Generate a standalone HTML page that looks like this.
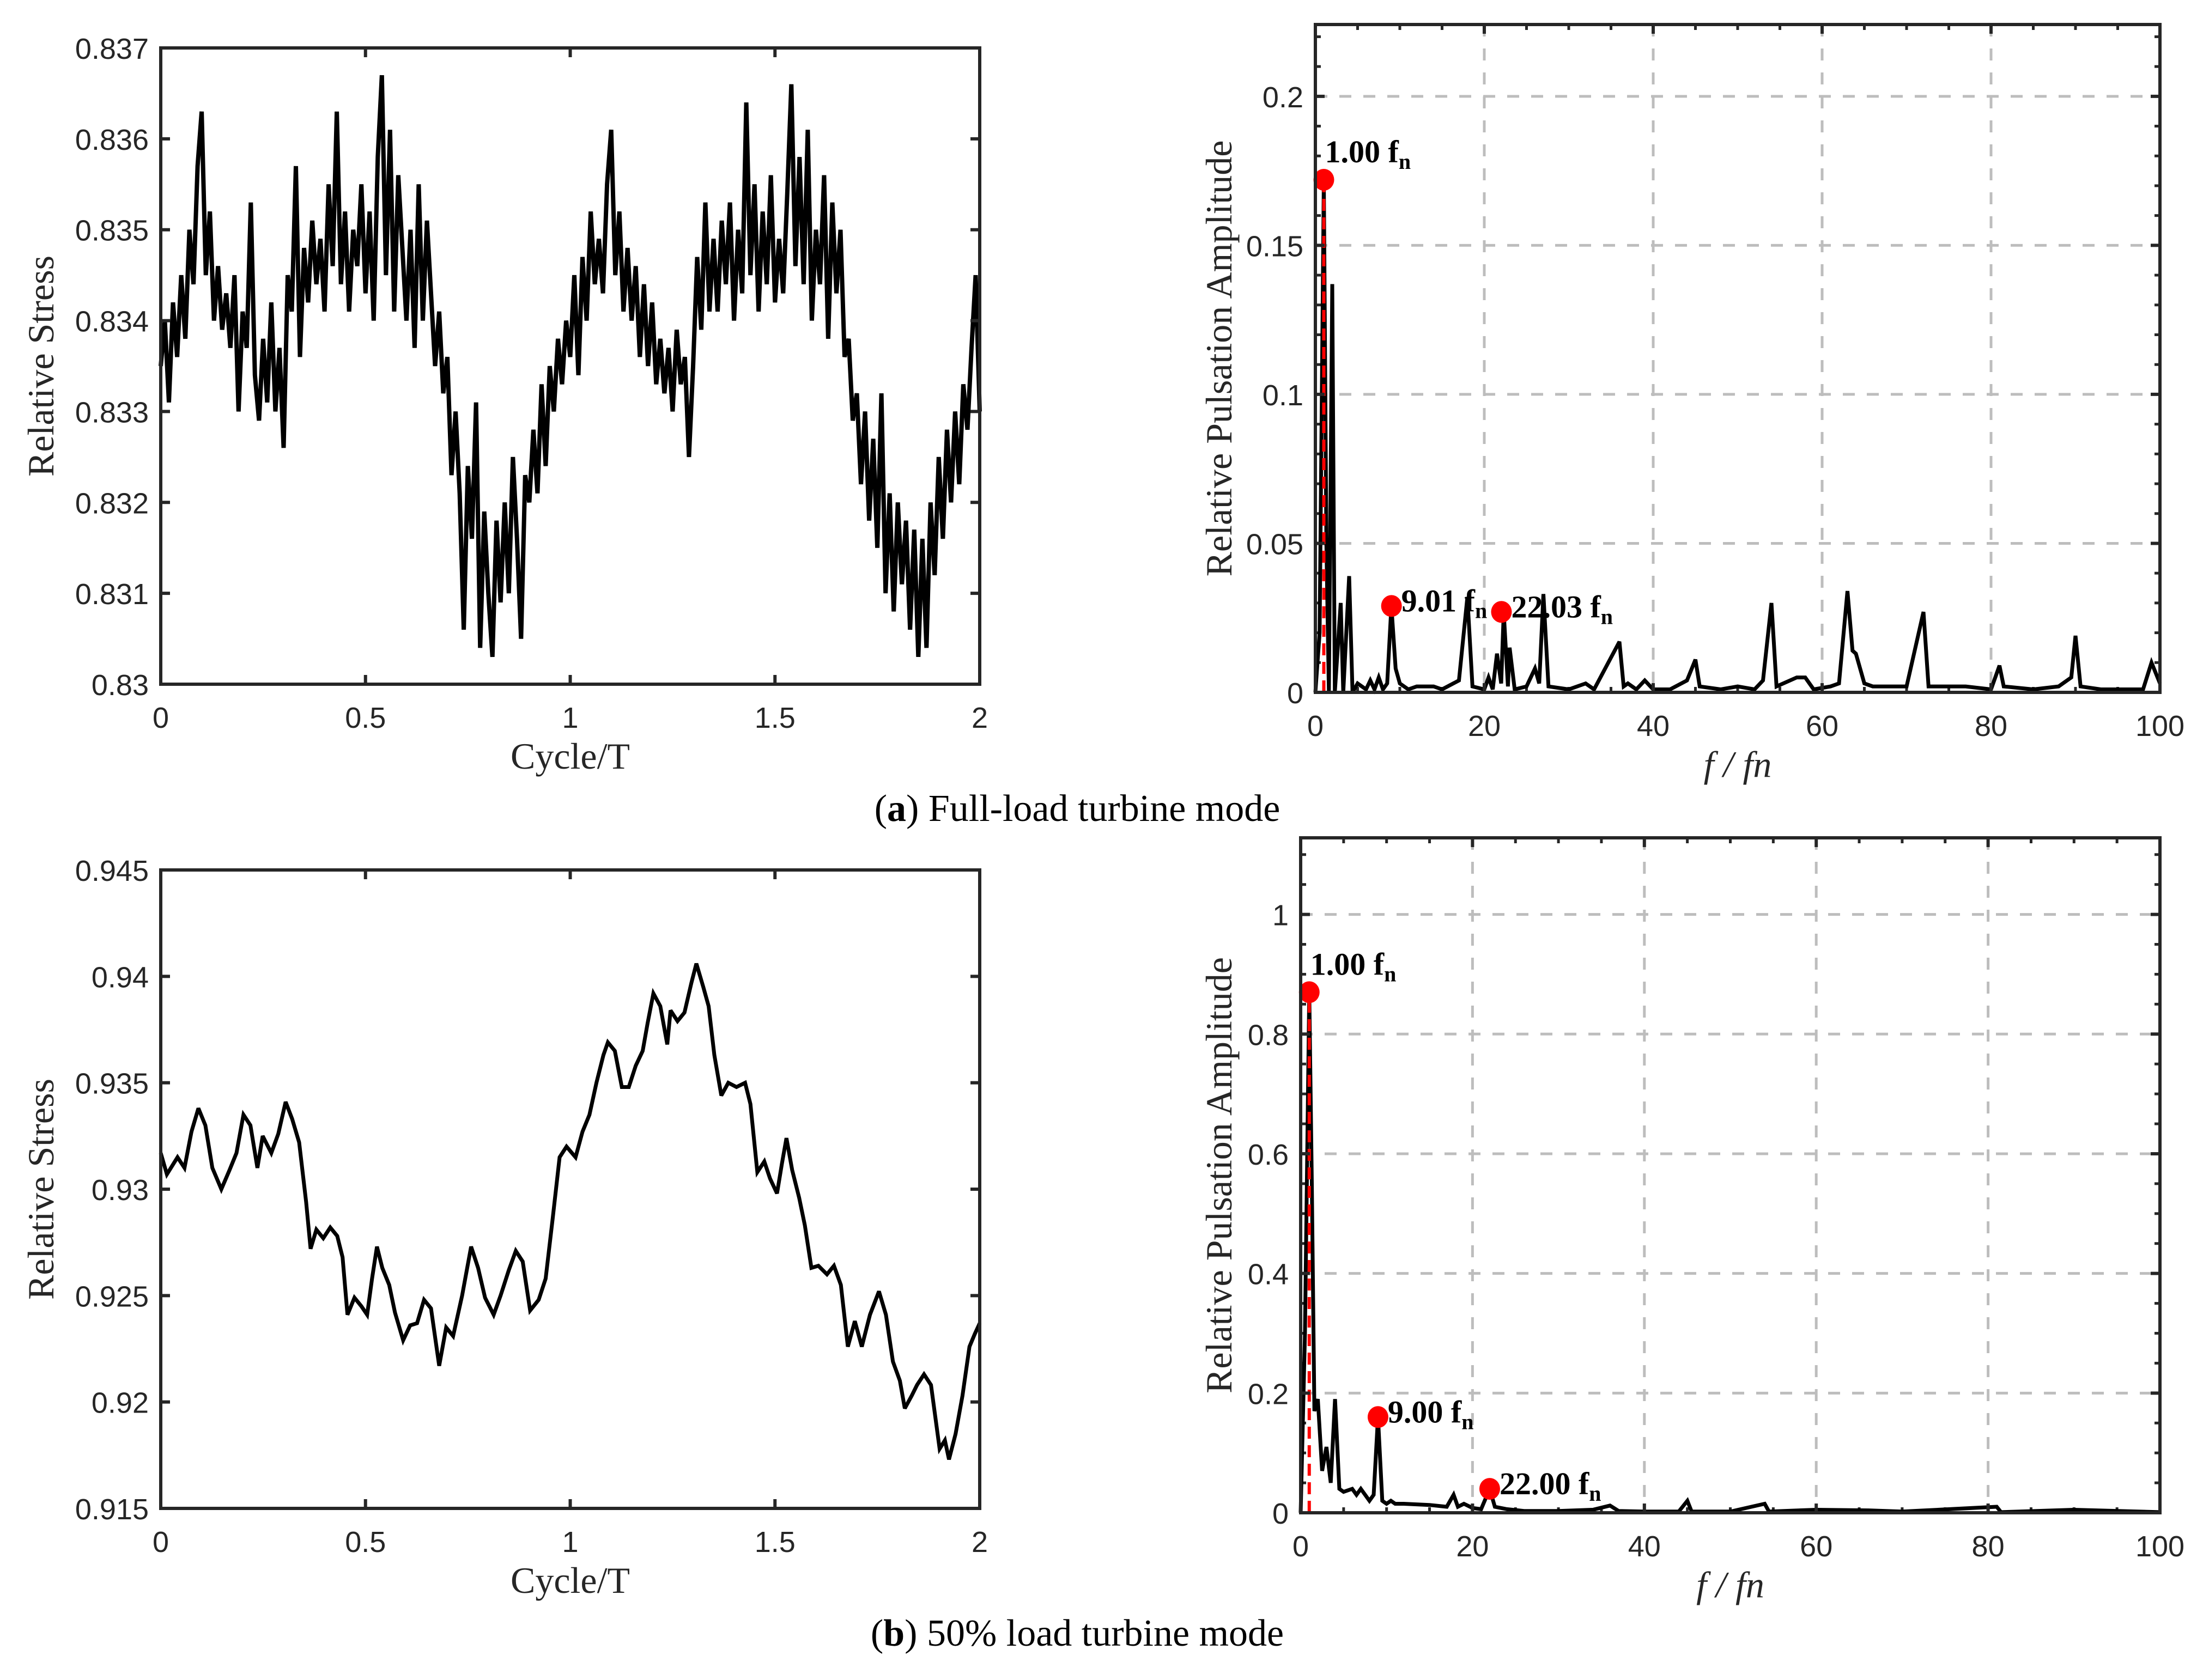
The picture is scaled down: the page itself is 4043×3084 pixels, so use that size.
<!DOCTYPE html>
<html><head><meta charset="utf-8"><style>
html,body{margin:0;padding:0;background:#fff;}
svg{display:block;}
</style></head><body>
<svg id="fig" xmlns="http://www.w3.org/2000/svg" width="4043" height="3084" viewBox="0 0 4043 3084">
<rect x="0" y="0" width="4043" height="3084" fill="#fff"/>
<text x="1977" y="1507" text-anchor="middle" font-family="Liberation Serif, serif" font-size="70" fill="#000">(<tspan font-weight="bold">a</tspan>) Full-load turbine mode</text>
<text x="1977" y="3021" text-anchor="middle" font-family="Liberation Serif, serif" font-size="70" fill="#000">(<tspan font-weight="bold">b</tspan>) 50% load turbine mode</text>
</svg>
<script>
// ---------- data ----------
const aCycle = [];
for (let i = 0; i <= 200; i++) aCycle.push(i / 100);
const aStress = [
0.8335,0.8340,0.8331,0.8342,0.8336,0.8345,0.8338,0.8350,0.8344,0.8357,0.8363,
0.8345,0.8352,0.8340,0.8346,0.8339,0.8343,0.8337,0.8345,0.8330,0.8341,
0.8337,0.8353,0.8334,0.8329,0.8338,0.8331,0.8342,0.8330,0.8337,0.8326,
0.8345,0.8341,0.8357,0.8336,0.8348,0.8342,0.8351,0.8344,0.8349,0.8341,
0.8355,0.8346,0.8363,0.8344,0.8352,0.8341,0.8350,0.8346,0.8355,0.8343,
0.8352,0.8340,0.8358,0.8367,0.8345,0.8361,0.8341,0.8356,0.8348,0.8340,
0.8350,0.8337,0.8355,0.8340,0.8351,0.8343,0.8335,0.8341,0.8332,0.8336,
0.8323,0.8330,0.8321,0.8306,0.8324,0.8316,0.8331,0.8304,0.8319,0.8310,
0.8303,0.8318,0.8309,0.8320,0.8310,0.8325,0.8316,0.8305,0.8323,0.8320,
0.8328,0.8321,0.8333,0.8324,0.8335,0.8330,0.8338,0.8333,0.8340,0.8336,
0.8345,0.8334,0.8347,0.8340,0.8352,0.8344,0.8349,0.8343,0.8355,0.8361,
0.8345,0.8352,0.8341,0.8348,0.8340,0.8346,0.8336,0.8344,0.8335,0.8342,
0.8333,0.8338,0.8332,0.8337,0.8330,0.8339,0.8333,0.8336,0.8325,0.8335,
0.8347,0.8339,0.8353,0.8341,0.8349,0.8341,0.8351,0.8344,0.8353,0.8340,
0.8350,0.8343,0.8364,0.8345,0.8355,0.8341,0.8352,0.8344,0.8356,0.8342,
0.8349,0.8343,0.8354,0.8366,0.8346,0.8358,0.8344,0.8361,0.8340,0.8350,
0.8344,0.8356,0.8338,0.8353,0.8343,0.8350,0.8336,0.8338,0.8329,0.8332,
0.8322,0.8330,0.8318,0.8327,0.8315,0.8332,0.8310,0.8321,0.8308,0.8320,
0.8311,0.8318,0.8306,0.8317,0.8303,0.8316,0.8304,0.8320,0.8312,0.8325,
0.8316,0.8328,0.8320,0.8330,0.8322,0.8333,0.8328,0.8337,0.8345,0.8330];
const aYTicks = [0.830,0.831,0.832,0.833,0.834,0.835,0.836,0.837];
const aYTickLabels = ["0.83","0.831","0.832","0.833","0.834","0.835","0.836","0.837"];
const cycleTicks = [0,0.5,1,1.5,2];
const cycleTickLabels = ["0","0.5","1","1.5","2"];

const bCycle = [0,.015,.041,.058,.075,.092,.109,.126,.148,.168,.185,.202,.219,.236,.249,.270,.287,.305,.321,.338,.355,.366,.380,.397,.414,.431,.444,.456,.473,.490,.504,.516,.528,.541,.558,.572,.592,.609,.626,.643,.660,.680,.697,.714,.736,.758,.775,.792,.813,.830,.850,.867,.884,.902,.923,.940,.957,.974,.991,1.013,1.030,1.047,1.064,1.081,1.092,1.109,1.126,1.143,1.160,1.177,1.189,1.203,1.220,1.237,1.245,1.262,1.279,1.296,1.308,1.325,1.338,1.352,1.369,1.386,1.406,1.427,1.440,1.457,1.474,1.488,1.505,1.517,1.528,1.542,1.559,1.573,1.589,1.606,1.627,1.644,1.661,1.678,1.695,1.712,1.732,1.754,1.771,1.788,1.805,1.817,1.834,1.847,1.864,1.881,1.902,1.915,1.925,1.941,1.958,1.975,1.988,2.0];
const bStress = [0.9317,0.9307,0.9315,0.9310,0.9327,0.9338,0.9330,0.9310,0.9300,0.9309,0.9317,0.9335,0.9330,0.9310,0.9325,0.9317,0.9326,0.9341,0.9333,0.9322,0.9294,0.9272,0.9281,0.9277,0.9282,0.9278,0.9268,0.9241,0.9249,0.9245,0.9241,0.9258,0.9273,0.9263,0.9255,0.9242,0.9229,0.9236,0.9237,0.9248,0.9244,0.9217,0.9235,0.9231,0.9250,0.9273,0.9263,0.9249,0.9241,0.9250,0.9262,0.9271,0.9266,0.9243,0.9248,0.9258,0.9286,0.9315,0.9320,0.9315,0.9327,0.9335,0.9350,0.9363,0.9369,0.9365,0.9348,0.9348,0.9358,0.9365,0.9378,0.9392,0.9386,0.9368,0.9384,0.9379,0.9383,0.9397,0.9406,0.9395,0.9386,0.9363,0.9344,0.9350,0.9348,0.9350,0.9340,0.9308,0.9313,0.9305,0.9298,0.9312,0.9324,0.9309,0.9296,0.9283,0.9263,0.9264,0.9260,0.9264,0.9255,0.9226,0.9238,0.9226,0.9241,0.9252,0.9241,0.9219,0.9210,0.9197,0.9203,0.9208,0.9213,0.9208,0.9178,0.9182,0.9173,0.9185,0.9203,0.9226,0.9232,0.9237];
const bYTicks = [0.915,0.92,0.925,0.93,0.935,0.94,0.945];
const bYTickLabels = ["0.915","0.92","0.925","0.93","0.935","0.94","0.945"];

const aFreq = [0,0.5,1,1.3,1.6,2,2.3,3,3.3,4,4.4,5,6,6.5,7,7.5,8,8.5,9,9.5,10,11,12,14,15,17,18,18.6,20,20.5,21,21.5,22,22.3,22.8,23,23.6,25,26,26.5,27,27.6,30,32,33,36,36.5,37,38,39,40,42,44,45,45.5,48,50,52,53,54,54.6,57,58,59,61,62,63,63.6,64,65,66,68,70,72,72.6,75,77,80,81,81.5,85,88,89.5,90,90.6,93,96,98,99,100];
const aAmp = [0,0.02,0.172,0.05,0,0.137,0,0.03,0,0.039,0,0.003,0.001,0.004,0.001,0.005,0.001,0.003,0.029,0.008,0.003,0.001,0.002,0.002,0.001,0.004,0.032,0.002,0.001,0.005,0.001,0.013,0.003,0.027,0.002,0.015,0.001,0.002,0.008,0.003,0.033,0.002,0.001,0.003,0.001,0.017,0.002,0.003,0.001,0.004,0.001,0.001,0.004,0.011,0.002,0.001,0.002,0.001,0.004,0.03,0.002,0.005,0.005,0.001,0.002,0.003,0.034,0.014,0.013,0.003,0.002,0.002,0.002,0.027,0.002,0.002,0.002,0.001,0.009,0.002,0.001,0.002,0.005,0.019,0.002,0.001,0.001,0.001,0.010,0.003];
const aPeakFreq = [1.00, 9.01, 22.03];
const aPeakAmp = [0.172, 0.029, 0.027];
const aPeakLabels = ["1.00", "9.01", "22.03"];
const aAmpTicks = [0,0.05,0.1,0.15,0.2];
const aAmpTickLabels = ["0","0.05","0.1","0.15","0.2"];

const bFreq = [0,0.5,1,1.3,1.6,2,2.5,3,3.5,4,4.5,5,6,6.5,7,7.5,8,8.5,9,9.5,10,10.5,11,12,15,17,17.8,18.3,19,20,21,22,22.6,24,26,30,34,36,37,40,44,45,45.5,50,54,54.5,60,66,70,81,81.5,90,100];
const bAmp = [0,0.3,0.87,0.55,0.17,0.19,0.07,0.11,0.05,0.19,0.04,0.035,0.04,0.03,0.04,0.03,0.02,0.03,0.16,0.02,0.015,0.02,0.015,0.015,0.013,0.01,0.03,0.01,0.015,0.008,0.006,0.04,0.01,0.006,0.003,0.003,0.005,0.012,0.003,0.002,0.002,0.02,0.002,0.002,0.015,0.002,0.005,0.004,0.002,0.01,0.001,0.005,0.001];
const bPeakFreq = [1.00, 9.00, 22.00];
const bPeakAmp = [0.87, 0.16, 0.04];
const bPeakLabels = ["1.00", "9.00", "22.00"];
const bAmpTicks = [0,0.2,0.4,0.6,0.8,1];
const bAmpTickLabels = ["0","0.2","0.4","0.6","0.8","1"];
const freqTicks = [0,20,40,60,80,100];
const freqTickLabels = ["0","20","40","60","80","100"];

// ---------- drawing ----------
const NS = "http://www.w3.org/2000/svg";
const svg = document.getElementById("fig");
function mk(tag, attrs, parent) {
  const e = document.createElementNS(NS, tag);
  for (const k in attrs) e.setAttribute(k, attrs[k]);
  (parent || svg).appendChild(e);
  return e;
}
const FRAME = "#262626";
const SANS = "Liberation Sans, Arial, sans-serif";
const SERIF = "Liberation Serif, serif";

function drawPanel(p) {
  const g = mk("g", {});
  
  
  const sx = v => p.x0 + (v - p.xmin) / (p.xmax - p.xmin) * (p.x1 - p.x0);
  const sy = v => p.y1 - (v - p.ymin) / (p.ymax - p.ymin) * (p.y1 - p.y0);
  if (p.grid) {
    p.xTicks.forEach(v => {
      if (v === p.xmin || v === p.xmax) return;
      const l = mk("line", {x1: sx(v), x2: sx(v), y1: p.y0, y2: p.y1, stroke: "#bdbdbd", "stroke-width": 5, "stroke-dasharray": "22 22"}, g);
      
      
    });
    p.yTicks.forEach(v => {
      if (v === p.ymin) return;
      const l = mk("line", {x1: p.x0, x2: p.x1, y1: sy(v), y2: sy(v), stroke: "#bdbdbd", "stroke-width": 5, "stroke-dasharray": "22 22"}, g);
      
      
    });
  }
  if (p.xMinor) {
    for (let v = p.xmin; v <= p.xmax + 1e-9; v += p.xMinor) {
      [[p.y1, p.y1 - 10], [p.y0, p.y0 + 10]].forEach(([a, b]) => {
        const t = mk("line", {x1: sx(v), x2: sx(v), y1: a, y2: b, stroke: FRAME, "stroke-width": 5}, g);
        
        
      });
    }
  }
  if (p.yMinor) {
    for (let v = p.ymin; v <= p.ymax + 1e-9; v += p.yMinor) {
      [[p.x0, p.x0 + 10], [p.x1, p.x1 - 10]].forEach(([a, b]) => {
        const t = mk("line", {x1: a, x2: b, y1: sy(v), y2: sy(v), stroke: FRAME, "stroke-width": 5}, g);
        
        
      });
    }
  }
  const d = p.xs.map((v, i) => (i ? "L" : "M") + sx(v).toFixed(1) + " " + sy(p.ys[i]).toFixed(1)).join(" ");
  const line = mk("path", {d: d, fill: "none", stroke: "#000", "stroke-width": p.lw, "stroke-linejoin": "miter", "stroke-miterlimit": 3}, g);
  
  
  if (p.peakX) {
    const vl = mk("line", {x1: sx(p.peakX[0]), x2: sx(p.peakX[0]), y1: sy(0), y2: sy(p.peakY[0]), stroke: "#ff0000", "stroke-width": 6, "stroke-dasharray": "22 12"}, g);
    
    
    p.peakX.forEach((v, i) => {
      const c = mk("ellipse", {cx: sx(v), cy: sy(p.peakY[i]), rx: 19, ry: 20, fill: "#ff0000"}, g);
      
      
      const t = mk("text", {x: sx(v) + 2 + (i ? 16 : 0), y: sy(p.peakY[i]) - (i ? -10 : 32), "font-family": SERIF, "font-size": 58, "font-weight": "bold", fill: "#000"}, g);
      t.textContent = p.peakLabels[i] + " f";
      const sub = mk("tspan", {"font-size": 40, dy: 12}, t);
      sub.textContent = "n";
      
      
    });
  }
  const fr = mk("rect", {x: p.x0, y: p.y0, width: p.x1 - p.x0, height: p.y1 - p.y0, fill: "none", stroke: FRAME, "stroke-width": 6}, g);
  
  
  p.xTicks.forEach((v, i) => {
    [[p.y1, p.y1 - 17], [p.y0, p.y0 + 17]].forEach(([a, b]) => {
      const t = mk("line", {x1: sx(v), x2: sx(v), y1: a, y2: b, stroke: FRAME, "stroke-width": 6}, g);
      
      
    });
    const lb = mk("text", {x: sx(v), y: p.y1 + 80, "text-anchor": "middle", "font-family": SANS, "font-size": 54, fill: FRAME}, g);
    lb.textContent = p.xTickLabels[i];
    
    
  });
  p.yTicks.forEach((v, i) => {
    [[p.x0, p.x0 + 17], [p.x1, p.x1 - 17]].forEach(([a, b]) => {
      const t = mk("line", {x1: a, x2: b, y1: sy(v), y2: sy(v), stroke: FRAME, "stroke-width": 6}, g);
      
      
    });
    const lb = mk("text", {x: p.x0 - 22, y: sy(v) + 20, "text-anchor": "end", "font-family": SANS, "font-size": 54, fill: FRAME}, g);
    lb.textContent = p.yTickLabels[i];
    
    
  });
  const xt = mk("text", {x: (p.x0 + p.x1) / 2, y: p.y1 + 155, "text-anchor": "middle", "font-family": SERIF, "font-size": 68, fill: "#262626", "font-style": p.italicX ? "italic" : "normal"}, g);
  xt.textContent = p.xTitle;
  
  
  const cy = (p.y0 + p.y1) / 2;
  const yt = mk("text", {x: p.yTitleX, y: cy, "text-anchor": "middle", "font-family": SERIF, "font-size": 68, fill: "#262626", transform: "rotate(-90 " + p.yTitleX + " " + cy + ")"}, g);
  yt.textContent = p.yTitle;
  
  
}

drawPanel({name: "full-load-stress-chart", x0: 295, x1: 1798, y0: 88, y1: 1256, xmin: 0, xmax: 2, ymin: 0.830, ymax: 0.837,
  xs: aCycle, ys: aStress, lw: 8, seriesName: "stress-line-full-load",
  xTicks: cycleTicks, xTickLabels: cycleTickLabels, yTicks: aYTicks, yTickLabels: aYTickLabels,
  xTitle: "Cycle/T", yTitle: "Relative Stress", yTitleX: 98});
drawPanel({name: "full-load-spectrum-chart", x0: 2414, x1: 3964, y0: 45, y1: 1271, xmin: 0, xmax: 100, ymin: 0, ymax: 0.2241,
  xs: aFreq, ys: aAmp, lw: 7, seriesName: "spectrum-line-full-load", grid: true, xMinor: 5, yMinor: 0.01,
  xTicks: freqTicks, xTickLabels: freqTickLabels, yTicks: aAmpTicks, yTickLabels: aAmpTickLabels,
  peakX: aPeakFreq, peakY: aPeakAmp, peakLabels: aPeakLabels,
  xTitle: "f / fn", italicX: true, yTitle: "Relative Pulsation Amplitude", yTitleX: 2260});
drawPanel({name: "half-load-stress-chart", x0: 295, x1: 1798, y0: 1597, y1: 2769, xmin: 0, xmax: 2, ymin: 0.915, ymax: 0.945,
  xs: bCycle, ys: bStress, lw: 7, seriesName: "stress-line-half-load",
  xTicks: cycleTicks, xTickLabels: cycleTickLabels, yTicks: bYTicks, yTickLabels: bYTickLabels,
  xTitle: "Cycle/T", yTitle: "Relative Stress", yTitleX: 98});
drawPanel({name: "half-load-spectrum-chart", x0: 2387, x1: 3964, y0: 1538, y1: 2777, xmin: 0, xmax: 100, ymin: 0, ymax: 1.128,
  xs: bFreq, ys: bAmp, lw: 7, seriesName: "spectrum-line-half-load", grid: true, xMinor: 5, yMinor: 0.05,
  xTicks: freqTicks, xTickLabels: freqTickLabels, yTicks: bAmpTicks, yTickLabels: bAmpTickLabels,
  peakX: bPeakFreq, peakY: bPeakAmp, peakLabels: bPeakLabels,
  xTitle: "f / fn", italicX: true, yTitle: "Relative Pulsation Amplitude", yTitleX: 2260});
</script>
</body></html>
